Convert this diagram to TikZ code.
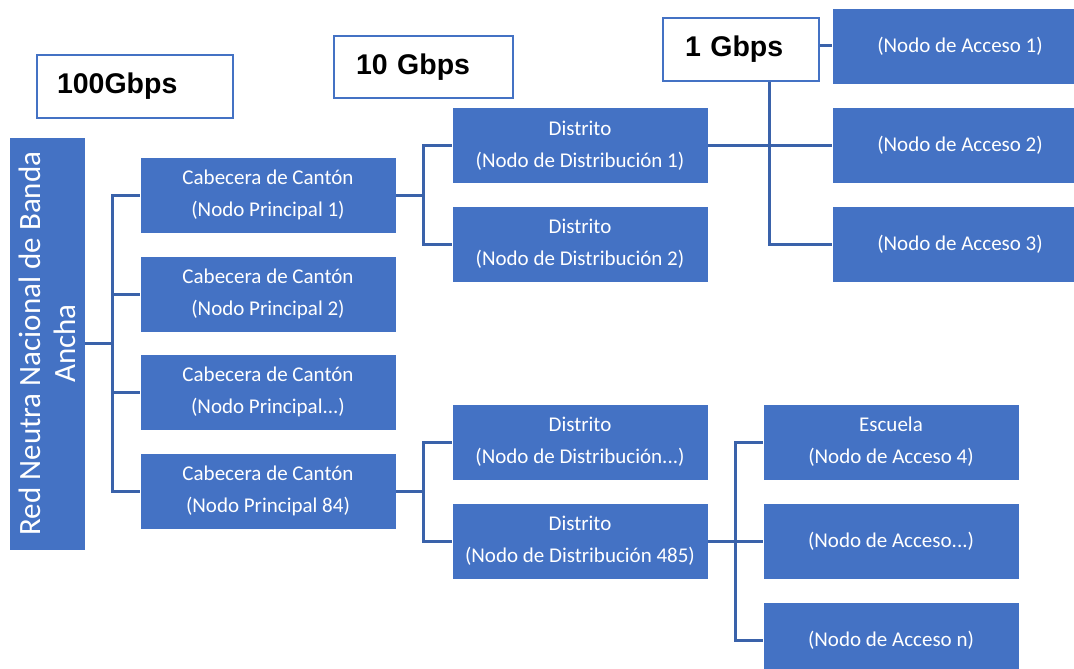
\documentclass[tikz,border=0pt]{standalone}
\usepackage{fontspec}
\setmainfont{Carlito}
\newfontfamily\gbpsfont{Liberation Sans}
\definecolor{boxblue}{HTML}{4472C4}
\definecolor{linkblue}{HTML}{3A62AA}

\begin{document}
\begin{tikzpicture}[x=1pt,y=-1pt,
  unit/.style={fill=boxblue, draw=white, line width=0.8pt, text=white,
    inner sep=0pt, minimum width=256, minimum height=76, align=center,
    font=\fontsize{21}{32}\selectfont},
  rate/.style={fill=white, draw=boxblue, line width=2pt, inner ysep=0pt,
    align=left, font=\gbpsfont\bfseries\fontsize{28.5}{34}\selectfont},
  link/.style={draw=linkblue, line width=3pt}
]
\useasboundingbox[fill=white] (0,0) rectangle (1074,669);

% root of the hierarchy
\node[unit, minimum width=76, minimum height=413] (root) at (47,343.5) {};
\node[rotate=90, text=white, align=center, inner sep=0pt,
  font=\fontsize{31}{35}\selectfont] (roottext) at (root.center)
  {Red Neutra Nacional de Banda\\Ancha};

% main nodes
\node[unit] (c1) at (268,195) {Cabecera de Cantón\\(Nodo Principal 1)};
\node[unit] (c2) at (268,294) {Cabecera de Cantón\\(Nodo Principal 2)};
\node[unit] (c3) at (268,392) {Cabecera de Cantón\\(Nodo Principal...)};
\node[unit] (c4) at (268,491) {Cabecera de Cantón\\(Nodo Principal 84)};

% distribution nodes
\node[unit] (d1) at (580,145.5) {Distrito\\(Nodo de Distribución 1)};
\node[unit] (d2) at (580,244) {Distrito\\(Nodo de Distribución 2)};
\node[unit] (d3) at (580,442) {Distrito\\(Nodo de Distribución...)};
\node[unit] (d4) at (580,541) {Distrito\\(Nodo de Distribución 485)};

% access nodes
\node[unit] (a1) at (960,46) {(Nodo de Acceso 1)};
\node[unit] (a2) at (960,145.5) {(Nodo de Acceso 2)};
\node[unit] (a3) at (960,244) {(Nodo de Acceso 3)};
\node[unit] (a4) at (891,442) {Escuela\\(Nodo de Acceso 4)};
\node[unit] (a5) at (891,541) {(Nodo de Acceso...)};
\node[unit] (a6) at (891,640) {(Nodo de Acceso n)};

% elbow connectors
\coordinate (j0) at ([xshift=27]root.east);
\draw[link] (root.east) -- (j0);
\foreach \n in {c1,c2,c3,c4} \draw[link] (j0) |- (\n.west);

\coordinate (j1) at ([xshift=27]c1.east);
\draw[link] (c1.east) -- (j1);
\foreach \n in {d1,d2} \draw[link] (j1) |- (\n.west);

\coordinate (j2) at ([xshift=27]c4.east);
\draw[link] (c4.east) -- (j2);
\foreach \n in {d3,d4} \draw[link] (j2) |- (\n.west);

\coordinate (j3) at ([xshift=61]d1.east);
\draw[link] (d1.east) -- (a2.west);
\foreach \n in {a1,a3} \draw[link] (j3) |- (\n.west);

\coordinate (j4) at ([xshift=27]d4.east);
\draw[link] (d4.east) -- (j4);
\foreach \n in {a4,a5,a6} \draw[link] (j4) |- (\n.west);

% bandwidth labels
\node[rate, text width=156, inner xsep=20, minimum height=63] (l100) at (135,86.5) {100Gbps};
\node[rate, text width=135, inner xsep=22, minimum height=62] (l10) at (423.5,67) {10 Gbps};
\node[rate, text width=112, inner xsep=22, minimum height=63] (l1) at (741,49.5) {1 Gbps};
\end{tikzpicture}
\end{document}
